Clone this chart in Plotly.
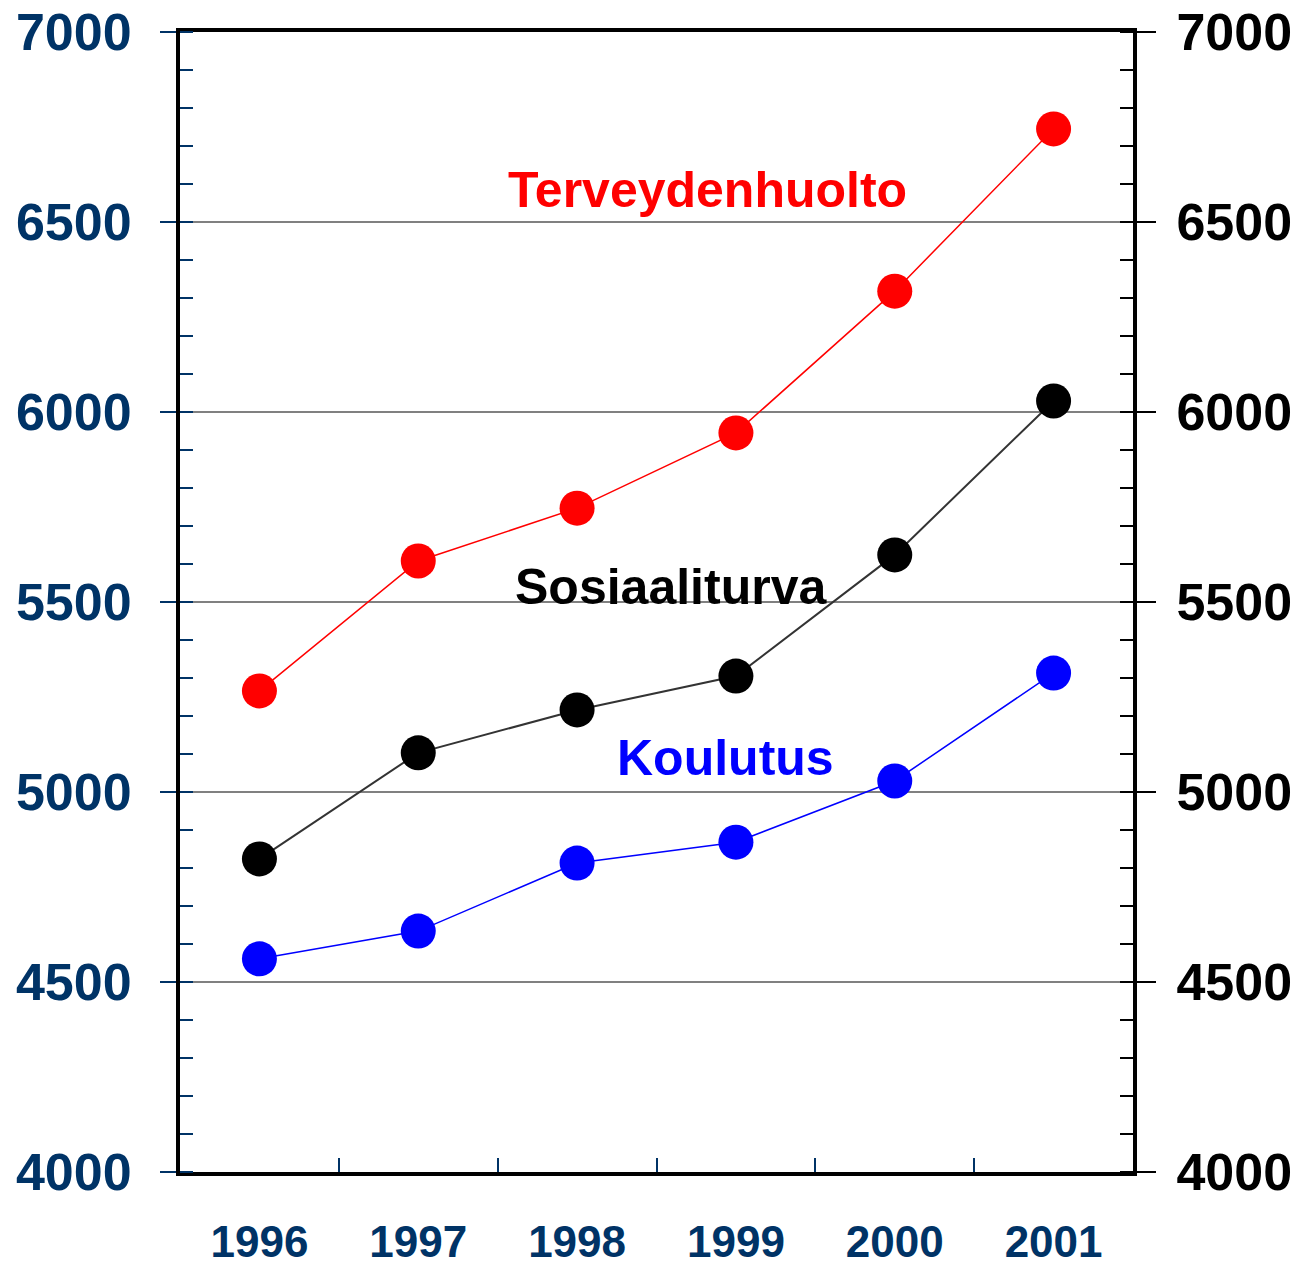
import plotly.graph_objects as go

years = ["1996", "1997", "1998", "1999", "2000", "2001"]
terveydenhuolto = [5266, 5608, 5747, 5945, 6318, 6745]
sosiaaliturva = [4824, 5103, 5216, 5305, 5624, 6029]
koulutus = [4561, 4634, 4813, 4868, 5029, 5313]

y_ticks = [4000, 4500, 5000, 5500, 6000, 6500, 7000]
y_range = [4000, 7000]

NAVY = "#003366"
FONT = "Liberation Sans, Arial, sans-serif"

fig = go.Figure()

series = [
    ("Terveydenhuolto", terveydenhuolto, "#FF0000", "#FF0000", 1.5),
    ("Sosiaaliturva", sosiaaliturva, "#000000", "#333333", 2),
    ("Koulutus", koulutus, "#0000FF", "#0000FF", 1.5),
]
for name, vals, mc, lc, lw in series:
    fig.add_trace(go.Scatter(
        x=years, y=vals, name=name, mode="lines+markers",
        line=dict(color=lc, width=lw),
        marker=dict(color=mc, size=35, symbol="circle"),
        showlegend=False,
    ))

fig.update_layout(
    width=1312, height=1268,
    margin=dict(l=180, r=179, t=32, b=96),
    plot_bgcolor="white", paper_bgcolor="white",
    xaxis=dict(
        type="category", range=[-0.5, 5.5], automargin=False,
        tickson="boundaries", ticks="inside", ticklen=14, tickwidth=2, tickcolor=NAVY,
        showline=True, linecolor="black", linewidth=4, mirror=True,
        showgrid=False, zeroline=False,
        tickfont=dict(family=FONT, size=44, color=NAVY, weight="bold"),
        ticklabelstandoff=28, ticklabeloverflow="allow",
    ),
    yaxis=dict(
        range=y_range, tickvals=y_ticks, ticktext=[str(v) for v in y_ticks],
        automargin=False,
        ticks="outside", ticklen=16, tickwidth=2, tickcolor=NAVY,
        minor=dict(ticks="inside", dtick=100, tick0=4000, ticklen=13, tickwidth=2, tickcolor=NAVY),
        showline=True, linecolor="black", linewidth=4,
        showgrid=True, gridcolor="#808080", gridwidth=1.5, zeroline=False,
        tickfont=dict(family=FONT, size=52, color=NAVY, weight="bold"),
        ticklabelstandoff=18, ticklabeloverflow="allow",
    ),
    yaxis2=dict(
        overlaying="y", side="right", anchor="x", automargin=False,
        range=y_range, tickvals=y_ticks, ticktext=[str(v) for v in y_ticks],
        ticks="outside", ticklen=19, tickwidth=2, tickcolor="black",
        minor=dict(ticks="inside", dtick=100, tick0=4000, ticklen=13, tickwidth=2, tickcolor="black"),
        showline=True, linecolor="black", linewidth=4,
        showgrid=False, zeroline=False,
        tickfont=dict(family=FONT, size=52, color="black", weight="bold"),
        ticklabelstandoff=10, ticklabeloverflow="allow",
    ),
)

# invisible trace to activate right axis
fig.add_trace(go.Scatter(x=years, y=koulutus, yaxis="y2", mode="lines",
                         line=dict(width=0), opacity=0, showlegend=False, hoverinfo="skip"))

labels = [
    ("Terveydenhuolto", 0.554, 6584, "#FF0000"),
    ("Sosiaaliturva", 0.515, 5539, "#000000"),
    ("Koulutus", 0.572, 5089, "#0000FF"),
]
for text, xp, yv, col in labels:
    fig.add_annotation(
        text=text, xref="paper", x=xp, yref="y", y=yv,
        showarrow=False, xanchor="center", yanchor="middle",
        font=dict(family=FONT, size=50, color=col, weight="bold"),
    )

fig.write_html("out.html", config={"displayModeBar": False},
               post_script="document.body.style.margin='0';")
